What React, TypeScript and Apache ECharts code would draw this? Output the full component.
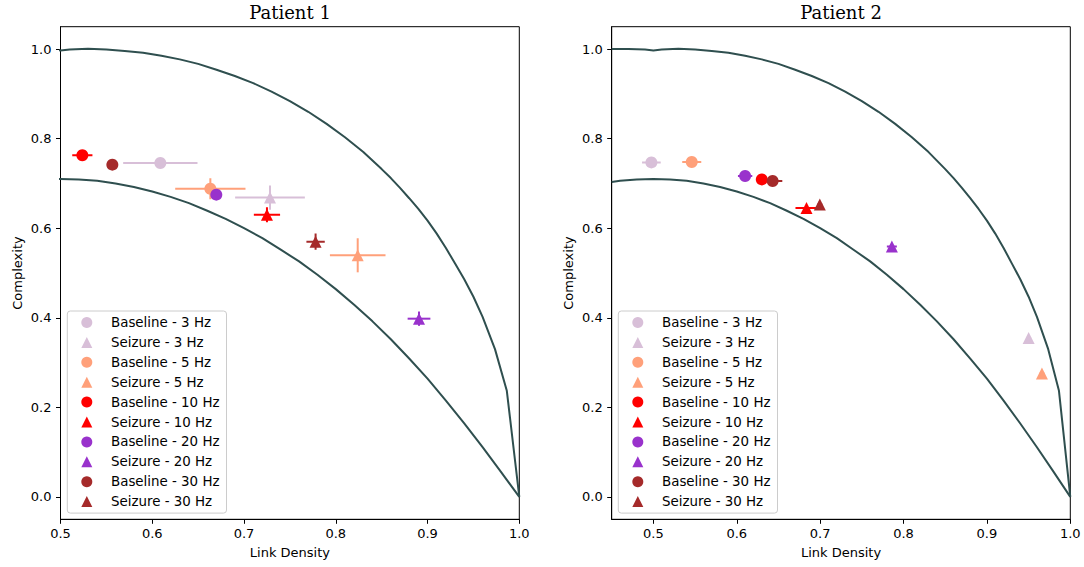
import React, { useEffect, useRef } from "react";
import * as echarts from "echarts";

const categories = [
  "Baseline - 3 Hz", "Seizure - 3 Hz", "Baseline - 5 Hz", "Seizure - 5 Hz",
  "Baseline - 10 Hz", "Seizure - 10 Hz", "Baseline - 20 Hz", "Seizure - 20 Hz",
  "Baseline - 30 Hz", "Seizure - 30 Hz",
];
const colors = ["#d8bfd8", "#d8bfd8", "#ffa07a", "#ffa07a", "#ff0000", "#ff0000", "#9932cc", "#9932cc", "#a52a2a", "#a52a2a"];
const markers = ["circle", "triangle", "circle", "triangle", "circle", "triangle", "circle", "triangle", "circle", "triangle"];

// Patient 1
const p1LinkDensity = [0.6088, 0.7283, 0.6633, 0.8239, 0.5238, 0.725, 0.6698, 0.8907, 0.5565, 0.778];
const p1Complexity = [0.7455, 0.6685, 0.688, 0.5395, 0.763, 0.630, 0.675, 0.398, 0.742, 0.570];
const p1LinkDensityErr = [0.0405, 0.038, 0.0383, 0.0303, 0.011, 0.0143, 0.004, 0.0124, 0.004, 0.010];
const p1ComplexityErr = [0.004, 0.027, 0.0234, 0.038, 0.003, 0.0167, 0.003, 0.016, 0.004, 0.018];

// Patient 2
const p2LinkDensity = [0.4976, 0.950, 0.546, 0.966, 0.630, 0.6836, 0.610, 0.786, 0.643, 0.6996];
const p2Complexity = [0.747, 0.355, 0.748, 0.2754, 0.709, 0.645, 0.7165, 0.559, 0.7054, 0.653];
const p2LinkDensityErr = [0.0112, 0.003, 0.0114, 0.003, 0.005, 0.0132, 0.0086, 0.006, 0.0116, 0.003];
const p2ComplexityErr = [0.003, 0.003, 0.003, 0.005, 0.003, 0.004, 0.003, 0.005, 0.003, 0.008];

// Bounds curves (link density, complexity)
const upperX = [0.45, 0.47, 0.49, 0.50, 0.51, 0.53, 0.55, 0.57, 0.59, 0.61, 0.63, 0.65, 0.67, 0.69, 0.71, 0.73, 0.75, 0.77, 0.79, 0.81, 0.83, 0.85, 0.86, 0.87, 0.88, 0.89, 0.90, 0.91, 0.92, 0.93, 0.94, 0.95, 0.96, 0.9735, 0.9864, 1.0];
const upperY = [1.0, 1.0, 0.999, 0.997, 0.999, 1.001, 0.999, 0.996, 0.992, 0.985, 0.977, 0.967, 0.954, 0.940, 0.924, 0.905, 0.884, 0.860, 0.833, 0.803, 0.770, 0.732, 0.712, 0.690, 0.667, 0.643, 0.617, 0.588, 0.556, 0.521, 0.486, 0.447, 0.402, 0.330, 0.237, 0.0];
const lowerX = [0.45, 0.46, 0.48, 0.50, 0.52, 0.54, 0.56, 0.58, 0.60, 0.62, 0.64, 0.66, 0.68, 0.70, 0.72, 0.74, 0.76, 0.78, 0.80, 0.82, 0.84, 0.86, 0.88, 0.90, 0.92, 0.94, 0.96, 0.98, 1.0];
const lowerY = [0.703, 0.706, 0.709, 0.710, 0.709, 0.706, 0.700, 0.692, 0.682, 0.670, 0.656, 0.639, 0.621, 0.600, 0.578, 0.552, 0.526, 0.496, 0.464, 0.429, 0.392, 0.352, 0.309, 0.264, 0.215, 0.164, 0.111, 0.056, 0.0];

const yTicks = [0, 0.2, 0.4, 0.6, 0.8, 1.0];
const xTicks = [0.5, 0.6, 0.7, 0.8, 0.9, 1.0];

const FONT = "DejaVu Sans";

export default function App() {
  const ref = useRef<HTMLDivElement>(null);
  useEffect(() => {
    if (!ref.current) return;
    const chart = echarts.init(ref.current, null, { renderer: "svg" });

    const panels = [
      { ld: p1LinkDensity, cx: p1Complexity, lde: p1LinkDensityErr, cxe: p1ComplexityErr, xmin: 0.5 },
      { ld: p2LinkDensity, cx: p2Complexity, lde: p2LinkDensityErr, cxe: p2ComplexityErr, xmin: 0.45 },
    ];
    const grids = [
      { left: 60.5, top: 26.7, width: 458.8, height: 492.6, show: true, borderColor: "#000", borderWidth: 1 },
      { left: 611.7, top: 26.7, width: 458.6, height: 492.6, show: true, borderColor: "#000", borderWidth: 1 },
    ];
    const axisCommon = {
      axisLine: { show: true, onZero: false, lineStyle: { color: "#000", width: 1 } },
      axisTick: { show: true, length: 4.5, lineStyle: { color: "#000", width: 1 } },
      splitLine: { show: false },
      nameTextStyle: { fontFamily: FONT, fontSize: 13, color: "#000" },
    };
    const xAxes = panels.map((p, i) => ({
      ...axisCommon,
      type: "value",
      gridIndex: i,
      min: p.xmin,
      max: 1.0,
      name: "Link Density",
      nameLocation: "middle",
      nameGap: 27,
      axisTick: { ...axisCommon.axisTick, customValues: xTicks },
      axisLabel: {
        customValues: xTicks, margin: 8, fontFamily: FONT, fontSize: 13, color: "#000",
        formatter: (v: number) => v.toFixed(1),
      },
    }));
    const yAxes = panels.map((p, i) => ({
      ...axisCommon,
      type: "value",
      gridIndex: i,
      min: -0.05,
      max: 1.05,
      name: "Complexity",
      nameLocation: "middle",
      nameGap: 37,
      axisTick: { ...axisCommon.axisTick, customValues: yTicks },
      axisLabel: {
        customValues: yTicks, margin: 9, fontFamily: FONT, fontSize: 13, color: "#000",
        formatter: (v: number) => v.toFixed(1),
      },
    }));

    const series: any[] = [];
    panels.forEach((p, pi) => {
      series.push({
        type: "line", name: "upper", xAxisIndex: pi, yAxisIndex: pi, silent: true,
        data: upperX.map((x, k) => [x, upperY[k]]), symbol: "none", clip: true,
        lineStyle: { color: "#2f4f4f", width: 2 },
      });
      series.push({
        type: "line", name: "lower", xAxisIndex: pi, yAxisIndex: pi, silent: true,
        data: lowerX.map((x, k) => [x, lowerY[k]]), symbol: "none", clip: true,
        lineStyle: { color: "#2f4f4f", width: 2 },
      });
      categories.forEach((name, ci) => {
        const color = colors[ci];
        series.push({
          type: "custom", name, xAxisIndex: pi, yAxisIndex: pi, silent: true, clip: true,
          itemStyle: { color },
          encode: { x: 0, y: 1 },
          data: [[p.ld[ci], p.cx[ci], p.lde[ci], p.cxe[ci]]],
          renderItem: (params: any, api: any) => {
            const x = api.value(0), y = api.value(1), xe = api.value(2), ye = api.value(3);
            const a = api.coord([x - xe, y]);
            const b = api.coord([x + xe, y]);
            const c = api.coord([x, y - ye]);
            const d = api.coord([x, y + ye]);
            return {
              type: "group",
              children: [
                { type: "line", shape: { x1: a[0], y1: a[1], x2: b[0], y2: b[1] }, style: { stroke: color, lineWidth: 2 } },
                { type: "line", shape: { x1: c[0], y1: c[1], x2: d[0], y2: d[1] }, style: { stroke: color, lineWidth: 2 } },
              ],
            };
          },
        });
        series.push({
          type: "scatter", name, xAxisIndex: pi, yAxisIndex: pi, silent: true,
          symbol: markers[ci], symbolSize: 12,
          itemStyle: { color, opacity: 1 },
          data: [[p.ld[ci], p.cx[ci]]],
        });
      });
    });

    const legendData = categories.map((name, ci) => ({
      name, icon: markers[ci], itemStyle: { color: colors[ci] },
    }));
    const legendCommon = {
      orient: "vertical",
      top: 311,
      itemWidth: 11,
      itemHeight: 11,
      itemGap: 6.9,
      padding: [5, 7, 5, 14],
      borderColor: "#cccccc",
      borderWidth: 1,
      borderRadius: 3,
      backgroundColor: "rgba(255,255,255,0.8)",
      selectedMode: false,
      textStyle: { fontFamily: FONT, fontSize: 13.4, color: "#000", lineHeight: 13, padding: [0, 0, 0, 13.7] },
      data: legendData,
    };

    chart.setOption({
      animation: false,
      backgroundColor: "#fff",
      grid: grids,
      xAxis: xAxes,
      yAxis: yAxes,
      legend: [
        { ...legendCommon, left: 67.3 },
        { ...legendCommon, left: 618.3 },
      ],
      graphic: [
        { type: "text", x: 290, y: 12, style: { text: "Patient 1", fontFamily: "DejaVu Serif", fontSize: 18, fill: "#000", align: "center", verticalAlign: "middle" } },
        { type: "text", x: 841, y: 12, style: { text: "Patient 2", fontFamily: "DejaVu Serif", fontSize: 18, fill: "#000", align: "center", verticalAlign: "middle" } },
      ],
      series,
    });
    return () => chart.dispose();
  }, []);
  return <div ref={ref} style={{ position: "fixed", left: 0, top: 0, width: 1084, height: 567 }} />;
}
